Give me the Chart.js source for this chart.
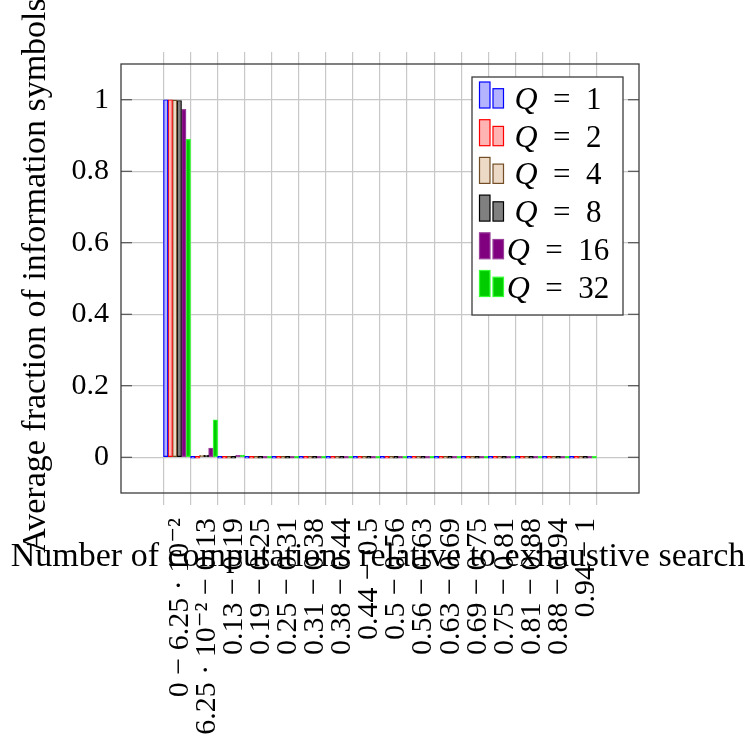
<!DOCTYPE html>
<html>
<head>
<meta charset="utf-8">
<script src="https://cdn.jsdelivr.net/npm/chart.js@4.4.1/dist/chart.umd.min.js"></script>
<style>
  html, body { margin: 0; padding: 0; background: #ffffff; }
  #wrap { width: 750px; height: 755px; }
</style>
</head>
<body>
<div id="wrap"><canvas id="chart" width="750" height="755"></canvas></div>
<script>
// Intervals of computations relative to exhaustive search
const intervals = [
  '0 − 6.25 · 10⁻²', '6.25 · 10⁻² − 0.13', '0.13 − 0.19', '0.19 − 0.25',
  '0.25 − 0.31', '0.31 − 0.38', '0.38 − 0.44', '0.44 − 0.5',
  '0.5 − 0.56', '0.56 − 0.63', '0.63 − 0.69', '0.69 − 0.75',
  '0.75 − 0.81', '0.81 − 0.88', '0.88 − 0.94', '0.94 − 1'
];

// Q values of the compared configurations
const qValues = [1, 2, 4, 8, 16, 32];

// Average fraction of information symbols per interval, one array per Q
const fracQ1  = [1.000, 0.000, 0.000, 0, 0, 0, 0, 0, 0, 0, 0, 0, 0, 0, 0, 0];
const fracQ2  = [1.000, 0.000, 0.000, 0, 0, 0, 0, 0, 0, 0, 0, 0, 0, 0, 0, 0];
const fracQ4  = [0.999, 0.001, 0.000, 0, 0, 0, 0, 0, 0, 0, 0, 0, 0, 0, 0, 0];
const fracQ8  = [0.998, 0.002, 0.000, 0, 0, 0, 0, 0, 0, 0, 0, 0, 0, 0, 0, 0];
const fracQ16 = [0.973, 0.026, 0.001, 0, 0, 0, 0, 0, 0, 0, 0, 0, 0, 0, 0, 0];
const fracQ32 = [0.889, 0.105, 0.006, 0, 0, 0, 0, 0, 0, 0, 0, 0, 0, 0, 0, 0];
const fractions = [fracQ1, fracQ2, fracQ4, fracQ8, fracQ16, fracQ32];

// Y axis ticks
const yTicks = [0, 0.2, 0.4, 0.6, 0.8, 1];

// Bar styles per series
const fillColors   = ['#b3b3ff', '#ffb3b3', '#ecd9c6', '#808080', '#800080', '#00cc00'];
const borderColors = ['#0000ff', '#ff0000', '#734d26', '#000000', '#9a409a', '#33ff33'];

const FONT = "'Liberation Serif', 'DejaVu Serif', serif";
const GRID = '#c8c8c8';
const AXIS = '#3c3c3c';

// the x axis runs over category indices; extra room on both sides of the groups
const nCat = intervals.length;
const sidePad = 1.57;
const xMin = -0.5 - sidePad;
const xMax = nCat - 0.5 + sidePad;
const boundaries = Array.from({ length: nCat + 1 }, (_, i) => i - 0.5);
const centers = intervals.map((_, i) => i);

Chart.defaults.font.family = FONT;
Chart.defaults.color = '#000';

const datasets = qValues.map((q, s) => ({
  label: 'Q = ' + q,
  data: fractions[s].map((v, i) => ({ x: centers[i], y: v })),
  backgroundColor: fillColors[s],
  borderColor: borderColors[s],
  borderWidth: 1.2,
  borderSkipped: false,
  categoryPercentage: 1,
  barPercentage: 1,
  minBarLength: 2,
  xAxisID: 'x',
  yAxisID: 'y'
}));

// plot frame plus inner y tick marks
const framePlugin = {
  id: 'frame',
  afterDraw(chart) {
    const { ctx, chartArea: a, scales } = chart;
    ctx.save();
    ctx.strokeStyle = AXIS;
    ctx.lineWidth = 1.1;
    yTicks.forEach(v => {
      const py = scales.y.getPixelForValue(v);
      ctx.beginPath();
      ctx.moveTo(a.left, py); ctx.lineTo(a.left + 11, py);
      ctx.moveTo(a.right, py); ctx.lineTo(a.right - 11, py);
      ctx.stroke();
    });
    ctx.lineWidth = 1.3;
    ctx.strokeRect(a.left, a.top, a.right - a.left, a.bottom - a.top);
    ctx.restore();
  }
};

// axis titles
const titlePlugin = {
  id: 'titles',
  afterDraw(chart) {
    const { ctx, chartArea: a } = chart;
    ctx.save();
    ctx.fillStyle = '#000';
    ctx.font = '34px ' + FONT;
    ctx.textAlign = 'center';
    ctx.textBaseline = 'alphabetic';
    ctx.fillText('Number of computations relative to exhaustive search', (a.left + a.right) / 2 - 2, a.bottom + 73);
    ctx.translate(45, (a.top + a.bottom) / 2 - 3);
    ctx.rotate(-Math.PI / 2);
    ctx.fillText('Average fraction of information symbols', 0, 0);
    ctx.restore();
  }
};

// legend box in the upper right corner of the plot
const legendPlugin = {
  id: 'boxLegend',
  afterDraw(chart) {
    const { ctx, chartArea: a } = chart;
    const bx = a.right - 167, by = a.top + 13, bw = 151, bh = 238;
    const pitch = 37.7;
    ctx.save();
    ctx.fillStyle = '#fff';
    ctx.fillRect(bx, by, bw, bh);
    ctx.strokeStyle = AXIS;
    ctx.lineWidth = 1.3;
    ctx.strokeRect(bx, by, bw, bh);
    chart.data.datasets.forEach((ds, i) => {
      const ry = by + 5 + i * pitch;
      ctx.fillStyle = ds.backgroundColor;
      ctx.strokeStyle = ds.borderColor;
      ctx.lineWidth = 1.2;
      ctx.fillRect(bx + 7.5, ry, 10.5, 26);
      ctx.strokeRect(bx + 7.5, ry, 10.5, 26);
      ctx.fillRect(bx + 21, ry + 6.7, 10.5, 19.3);
      ctx.strokeRect(bx + 21, ry + 6.7, 10.5, 19.3);
      // "Q = n" with italic Q
      const italic = 'italic 32px ' + FONT, upright = '31px ' + FONT;
      const rest = '  =  ' + qValues[i];
      ctx.font = italic; const wq = ctx.measureText('Q').width;
      ctx.font = upright; const wr = ctx.measureText(rest).width;
      const cx = bx + 86;
      const x0 = cx - (wq + wr) / 2;
      const base = ry + 27;
      ctx.fillStyle = '#000';
      ctx.textAlign = 'left';
      ctx.textBaseline = 'alphabetic';
      ctx.font = italic; ctx.fillText('Q', x0, base);
      ctx.font = upright; ctx.fillText(rest, x0 + wq, base);
    });
    ctx.restore();
  }
};

new Chart(document.getElementById('chart').getContext('2d'), {
  type: 'bar',
  data: { datasets },
  options: {
    responsive: false,
    animation: false,
    layout: { padding: { left: 0, right: 111, top: 0, bottom: 0 } },
    plugins: { legend: { display: false }, tooltip: { enabled: false } },
    scales: {
      x: {
        type: 'linear', position: 'bottom', weight: 0,
        min: xMin, max: xMax, offset: false,
        afterBuildTicks(s) { s.ticks = boundaries.map(v => ({ value: v })); },
        ticks: { display: false },
        grid: { offset: false, color: GRID, lineWidth: 1.2, drawTicks: true, tickLength: 12 },
        border: { display: false },
        afterFit(s) { s.height = 12; }
      },
      xLab: {
        type: 'linear', position: 'bottom', weight: 1,
        min: xMin, max: xMax, offset: false,
        afterBuildTicks(s) { s.ticks = centers.map(v => ({ value: v })); },
        ticks: {
          autoSkip: false, minRotation: 90, maxRotation: 90, padding: 13, labelOffset: 3,
          font: { size: 30 }, color: '#000',
          callback: (v) => intervals[Math.round(v)]
        },
        grid: { display: false, drawTicks: false, offset: false },
        border: { display: false },
        afterFit(s) { s.height = 250; }
      },
      xTop: {
        type: 'linear', position: 'top',
        min: xMin, max: xMax, offset: false,
        afterBuildTicks(s) { s.ticks = boundaries.map(v => ({ value: v })); },
        ticks: { display: false },
        grid: { offset: false, drawOnChartArea: false, color: GRID, lineWidth: 1.2, drawTicks: true, tickLength: 12 },
        border: { display: false },
        afterFit(s) { s.height = 64; }
      },
      y: {
        type: 'linear', min: -0.1, max: 1.1,
        afterBuildTicks(s) { s.ticks = yTicks.map(v => ({ value: v })); },
        ticks: { padding: 12, font: { size: 30 }, color: '#000', callback: v => String(v) },
        grid: { color: GRID, lineWidth: 1.2, drawTicks: false },
        border: { display: false },
        afterFit(s) { s.width = 121; }
      }
    }
  },
  plugins: [framePlugin, titlePlugin, legendPlugin]
});
</script>
</body>
</html>
